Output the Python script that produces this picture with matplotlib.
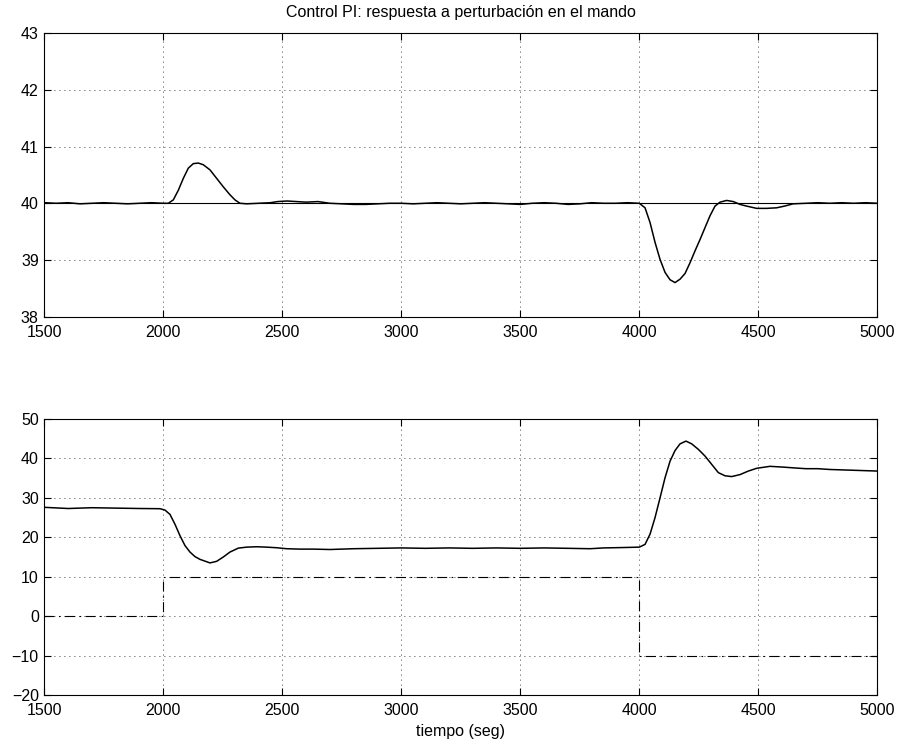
import numpy as np
import matplotlib
matplotlib.use('Agg')
import matplotlib.pyplot as plt

plt.rcParams['font.family'] = ['Liberation Sans', 'DejaVu Sans']

# Upper plot: controlled variable (measured) and its setpoint
top_t = [1500, 1550, 1600, 1650, 1700, 1750, 1800, 1850, 1900, 1950, 2000, 2021,
         2042, 2063, 2084, 2105, 2126, 2147, 2168, 2196, 2224, 2252, 2280, 2301,
         2322, 2350, 2400, 2450, 2480, 2520, 2560, 2600, 2650, 2700, 2750, 2800,
         2850, 2900, 2950, 3000, 3050, 3100, 3150, 3200, 3250, 3300, 3350, 3400,
         3450, 3500, 3550, 3600, 3650, 3700, 3750, 3800, 3850, 3900, 3950, 4000,
         4024, 4045, 4066, 4087, 4108, 4129, 4150, 4171, 4192, 4213, 4234, 4255,
         4276, 4297, 4318, 4339, 4367, 4395, 4423, 4451, 4493, 4535, 4577, 4610,
         4646, 4700, 4750, 4800, 4850, 4900, 4950, 5000]
top_y = [40.01, 40.0, 40.01, 39.99, 40.0, 40.01, 40.0, 39.99, 40.0, 40.01, 40.0, 40.0,
         40.06, 40.23, 40.44, 40.62, 40.70, 40.71, 40.68, 40.59, 40.44, 40.29, 40.15, 40.06,
         40.0, 39.99, 40.0, 40.01, 40.03, 40.04, 40.03, 40.02, 40.03, 40.0, 39.99, 39.98,
         39.98, 39.99, 40.0, 40.0, 39.99, 40.0, 40.01, 40.0, 39.99, 40.0, 40.01, 40.0,
         39.99, 39.98, 40.0, 40.01, 40.0, 39.98, 39.99, 40.01, 40.0, 40.0, 40.01, 40.0,
         39.92, 39.66, 39.31, 39.01, 38.78, 38.65, 38.60, 38.66, 38.76, 38.95, 39.16, 39.36,
         39.57, 39.78, 39.95, 40.02, 40.05, 40.03, 39.98, 39.95, 39.91, 39.91, 39.92, 39.95,
         39.99, 40.0, 40.01, 40.0, 40.01, 40.0, 40.01, 40.0]
ref_t = [1500, 5000]
ref_y = [40, 40]

# Lower plot: control action and disturbance step
bot_t = [1500, 1600, 1700, 1800, 1900, 1986, 2007, 2028, 2049, 2070, 2091, 2112,
         2133, 2154, 2196, 2224, 2252, 2280, 2315, 2350, 2392, 2434, 2476, 2518,
         2574, 2630, 2700, 2800, 2900, 3000, 3100, 3200, 3300, 3400, 3500, 3600,
         3700, 3793, 3850, 3933, 4000, 4024, 4045, 4066, 4087, 4108, 4129, 4150,
         4171, 4196, 4220, 4248, 4276, 4304, 4332, 4360, 4388, 4423, 4458, 4493,
         4549, 4605, 4650, 4700, 4750, 4800, 4850, 4900, 4950, 5000]
bot_y = [27.6, 27.3, 27.5, 27.4, 27.3, 27.25, 26.9, 25.8, 23.3, 20.4, 17.9, 16.25,
         15.1, 14.4, 13.5, 13.9, 15.0, 16.25, 17.25, 17.5, 17.6, 17.5, 17.35, 17.1,
         17.0, 17.0, 16.9, 17.1, 17.2, 17.3, 17.2, 17.3, 17.2, 17.3, 17.2, 17.3,
         17.2, 17.1, 17.3, 17.4, 17.5, 18.2, 20.8, 25.0, 30.0, 35.1, 39.3, 42.0,
         43.7, 44.4, 43.7, 42.3, 40.6, 38.5, 36.4, 35.6, 35.4, 35.9, 36.8, 37.5,
         38.0, 37.8, 37.6, 37.4, 37.4, 37.2, 37.1, 37.0, 36.9, 36.8]
dist_t = [1500, 2000, 2000, 4000, 4000, 5000]
dist_y = [0, 0, 10, 10, -10, -10]

xticks = [1500, 2000, 2500, 3000, 3500, 4000, 4500, 5000]

fig = plt.figure(figsize=(8.99, 7.44), dpi=100)
ax1 = fig.add_axes([0.0493, 0.5745, 0.9266, 0.3807])
ax2 = fig.add_axes([0.0493, 0.0659, 0.9266, 0.3709])

ax1.plot(top_t, top_y, color='k', linewidth=1.1)
ax1.plot(ref_t, ref_y, color='k', linewidth=0.8)
ax1.set_xlim(1500, 5000)
ax1.set_ylim(38, 43)
ax1.set_yticks([38, 39, 40, 41, 42, 43])
ax1.set_title('Control PI: respuesta a perturbación en el mando', fontsize=11.5, pad=12)

ax2.plot(bot_t, bot_y, color='k', linewidth=1.1)
ax2.plot(dist_t, dist_y, color='k', linewidth=0.8, linestyle=(0, (9, 4, 1.5, 4)))
ax2.set_xlim(1500, 5000)
ax2.set_ylim(-20, 50)
ax2.set_yticks(np.arange(-20, 51, 10))
ax2.set_xlabel('tiempo (seg)', fontsize=11.5, labelpad=4)

for ax in (ax1, ax2):
    ax.set_xticks(xticks)
    ax.grid(True, color='k', linestyle=(0, (1, 5)), linewidth=0.6)
    ax.tick_params(direction='in', length=5, width=0.8, top=True, right=True,
                   labelsize=11.5)
    ax.tick_params(axis='x', pad=6)
    ax.tick_params(axis='y', pad=4)
    for s in ax.spines.values():
        s.set_linewidth(0.8)

fig.savefig('out.png', dpi=100)
